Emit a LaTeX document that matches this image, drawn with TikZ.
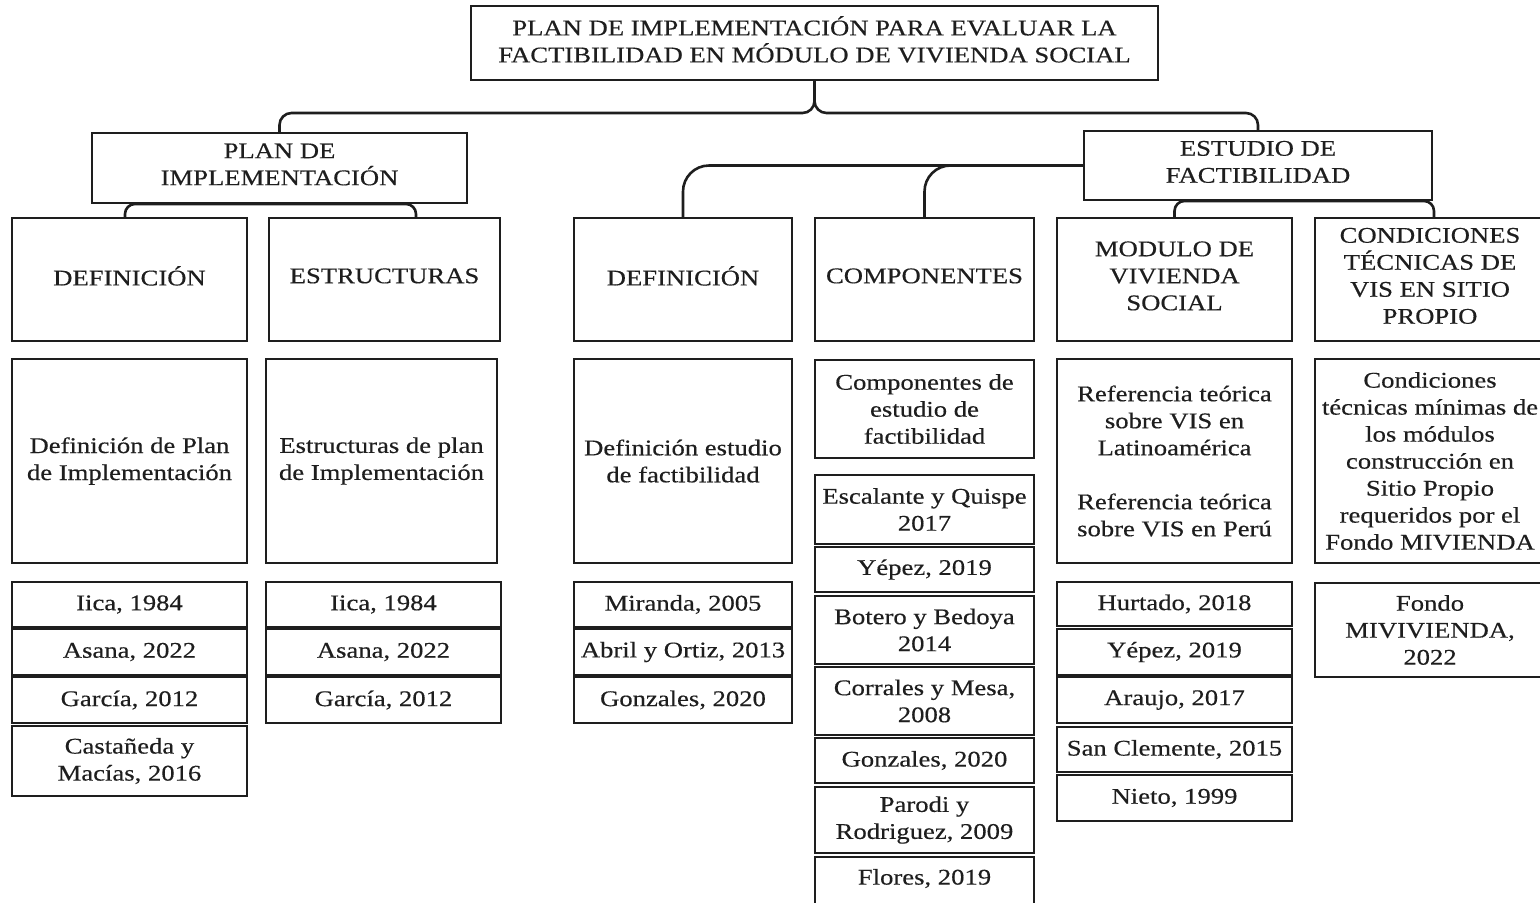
\documentclass[tikz,border=0pt]{standalone}
\usepackage{fontspec}
\setmainfont{Liberation Serif}[FakeStretch=1.19,FakeBold=0.4]
\usetikzlibrary{fit,calc}
\definecolor{ink}{HTML}{1E1E1E}
\tikzset{
  frame/.style={draw=ink, line width=1pt, inner sep=0pt},
  label/.style={inner sep=0pt, align=center, text=ink,
    font=\fontsize{11.2}{13.5}\selectfont},
  conn/.style={draw=ink, line width=1.3pt},
}
\newcommand\bx[6]{\node[frame, fit={(#2,#3) (#4,#5)}] (#1) {};
  \node[label] (#1t) at (#1.center) {#6};}
\newcommand\bxc[6]{\node[frame, fit={(#2,#3) (#4,#5)}] (#1) {};
  \node[label] (#1t) at ([yshift=1.8pt]#1.center) {#6};}
\begin{document}
\begin{tikzpicture}[x=0.5pt,y=-0.5pt]
\clip (0,0) rectangle (1540,902);
\fill[white] (0,0) rectangle (1540,902);
% top
\bxc{title}{471}{6}{1158}{80}{PLAN DE IMPLEMENTACIÓN PARA EVALUAR LA\\FACTIBILIDAD EN MÓDULO DE VIVIENDA SOCIAL}
\bxc{plan}{92}{133}{467}{203}{PLAN DE\\IMPLEMENTACIÓN}
\bxc{estudio}{1084}{131}{1432}{200}{ESTUDIO DE\\FACTIBILIDAD}
% row 1
\bxc{pdef}{12}{218}{247}{341}{DEFINICIÓN}
\bxc{pest}{269}{218}{500}{341}{ESTRUCTURAS}
\bxc{edef}{574}{218}{792}{341}{DEFINICIÓN}
\bxc{ecom}{815}{218}{1034}{341}{COMPONENTES}
\bxc{emod}{1057}{218}{1292}{341}{MODULO DE\\VIVIENDA\\SOCIAL}
\bxc{econ}{1315}{218}{1545}{341}{CONDICIONES\\TÉCNICAS DE\\VIS EN SITIO\\PROPIO}
% row 2
\bx{pdef2}{12}{359}{247}{563}{Definición de Plan\\de Implementación}
\bx{pest2}{266}{359}{497}{563}{Estructuras de plan\\de Implementación}
\bx{edef2}{574}{359}{792}{563}{Definición estudio\\de factibilidad}
\bx{ecom2}{815}{360}{1034}{458}{Componentes de\\estudio de\\factibilidad}
\bx{emod2}{1057}{359}{1292}{563}{Referencia teórica\\sobre VIS en\\Latinoamérica\\[13.5pt]Referencia teórica\\sobre VIS en Perú}
\bx{econ2}{1315}{359}{1545}{563}{Condiciones\\técnicas mínimas de\\los módulos\\construcción en\\Sitio Propio\\requeridos por el\\Fondo MIVIENDA}
% row 3 column 1
\bx{a1}{12}{582}{247}{627}{Iica, 1984}
\bx{a2}{12}{629}{247}{675}{Asana, 2022}
\bx{a3}{12}{677}{247}{723}{García, 2012}
\bx{a4}{12}{726}{247}{796}{Castañeda y\\Macías, 2016}
% column 2
\bx{b1}{266}{582}{501}{627}{Iica, 1984}
\bx{b2}{266}{629}{501}{675}{Asana, 2022}
\bx{b3}{266}{677}{501}{723}{García, 2012}
% column 3
\bx{c1}{574}{582}{792}{627}{Miranda, 2005}
\bx{c2}{574}{629}{792}{675}{Abril y Ortiz, 2013}
\bx{c3}{574}{677}{792}{723}{Gonzales, 2020}
% column 4
\bx{d1}{815}{475}{1034}{544}{Escalante y Quispe\\2017}
\bx{d2}{815}{547}{1034}{592}{Yépez, 2019}
\bx{d3}{815}{596}{1034}{664}{Botero y Bedoya\\2014}
\bx{d4}{815}{667}{1034}{735}{Corrales y Mesa,\\2008}
\bx{d5}{815}{738}{1034}{783}{Gonzales, 2020}
\bx{d6}{815}{787}{1034}{853}{Parodi y\\Rodriguez, 2009}
\node[frame, fit={(815,857) (1034,912)}] (d7) {};
\node[label] (d7t) at ([yshift=3pt]d7.center) {Flores, 2019};
% column 5
\bx{e1}{1057}{582}{1292}{626}{Hurtado, 2018}
\bx{e2}{1057}{629}{1292}{675}{Yépez, 2019}
\bx{e3}{1057}{677}{1292}{723}{Araujo, 2017}
\bx{e4}{1057}{727}{1292}{772}{San Clemente, 2015}
\bx{e5}{1057}{775}{1292}{821}{Nieto, 1999}
% column 6
\bx{f1}{1315}{583}{1545}{677}{Fondo\\MIVIVIENDA,\\2022}
% connectors
\draw[conn, rounded corners=6pt] (title.south) -- ++(0,32) -| (plan.north);
\draw[conn, rounded corners=6pt] (title.south) -- ++(0,32) -| (estudio.north);
\draw[conn, rounded corners=5pt] ([xshift=-2.25pt]pdef.north) |- (plan.south) -| ([xshift=15.75pt]pest.north);
\draw[conn, rounded corners=13pt] (estudio.west) -| (edef.north);
\draw[conn, rounded corners=13pt] (estudio.west) -| (ecom.north);
\draw[conn, rounded corners=5pt] (emod.north) |- (estudio.south) -| ([xshift=2pt]econ.north);
\end{tikzpicture}
\end{document}
